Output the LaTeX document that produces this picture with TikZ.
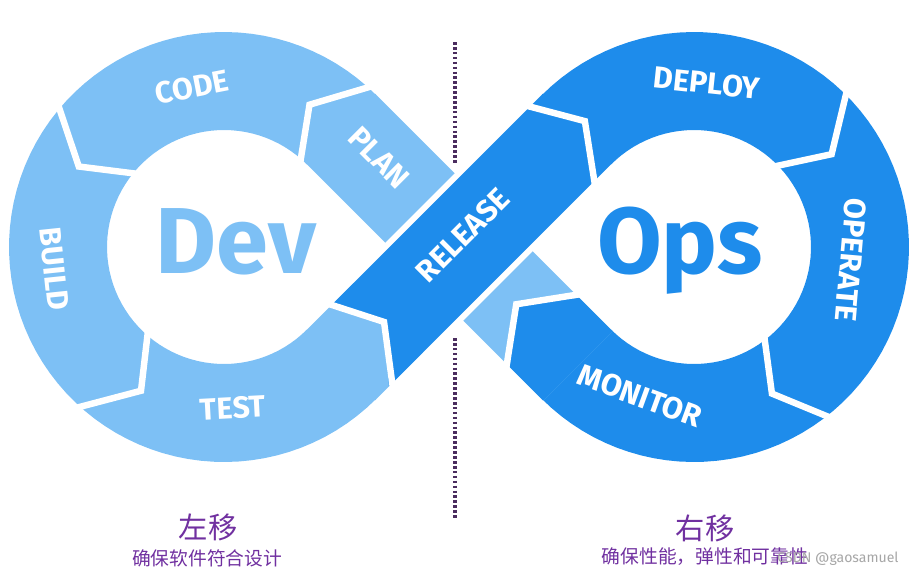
\documentclass[tikz,border=0pt]{standalone}
\usepackage{fontspec}
\setmainfont{Fira Sans}
\newfontfamily\cjk{Noto Sans CJK SC}
\usetikzlibrary{calc}
\definecolor{devblue}{RGB}{125,192,245}
\definecolor{opsblue}{RGB}{30,140,235}
\definecolor{shiftpurple}{RGB}{112,48,160}
\definecolor{divline}{RGB}{75,45,95}

\begin{document}
\begin{tikzpicture}[x=0.03cm, y=-0.03cm,
  devfill/.style={fill=devblue},
  opsfill/.style={fill=opsblue},
  gap/.style={draw=white, line width=5.5pt, line join=miter},
  divider/.style={divline, line width=2.6pt, dash pattern=on 2.2pt off 2pt},
  lab/.style={text=white, font=\bfseries\fontsize{26}{26}\selectfont, inner sep=0pt},
  big/.style={font=\bfseries\fontsize{80}{80}\selectfont, inner sep=0pt, anchor=base},
  cn/.style={text=shiftpurple, inner sep=0pt}
]
  \useasboundingbox (0,0) rectangle (917,578);
  \coordinate (L) at (224,247);
  \coordinate (R) at (694,247);
  \coordinate (C) at (459,247);

  % divider behind the loop
  \coordinate (divtop) at (455,42);
  \coordinate (divmidA) at (455,165);
  \coordinate (divmidB) at (455,338);
  \coordinate (divbot) at (455,520);
  \draw[divider] (divtop) -- (divmidA);
  \draw[divider] (divmidB) -- (divbot);

  % the two rings
  \fill[devfill] plot[domain=45:315, samples=80] ({224+215*cos(\x)},{247+215*sin(\x)})
    -- plot[domain=315:45, samples=80] ({224+117*cos(\x)},{247+117*sin(\x)}) -- cycle;
  \fill[opsfill] plot[domain=225:495, samples=80] ({694+215*cos(\x)},{247+215*sin(\x)})
    -- plot[domain=495:225, samples=80] ({694+117*cos(\x)},{247+117*sin(\x)}) -- cycle;

  % monitor -> plan band (under)
  \begin{scope}[shift={(C)}, rotate=135]
    \fill[devfill] (-168,-49) rectangle (168,49);
    \fill[opsfill] (-168,-49) -- (-121,-49) -- (-81,0) -- (-121,49) -- (-168,49) -- cycle;
    \draw[gap] (-121,55) -- (-81,0) -- (-121,-55);
  \end{scope}

  % test -> release band (over)
  \begin{scope}[shift={(C)}, rotate=45]
    \fill[white] (-62,-55) rectangle (62,55);
    \fill[devfill] (-168,-49) rectangle (-100,49);
    \fill[opsfill] (-134,-49) -- (-106,0) -- (-148,49) -- (168,49) -- (168,-49) -- cycle;
    \draw[gap] (-134,-55) -- (-106,0) -- (-148,55);
    \draw[gap] (146,-55) -- (178,0) -- (138,55);
  \end{scope}

  % chevron gaps on the rings
  \draw[gap] ($(L)+(313:111)$) -- ($(L)+(301:166)$) -- ($(L)+(313:221)$);
  \draw[gap] ($(L)+(221:111)$) -- ($(L)+(209:166)$) -- ($(L)+(221:221)$);
  \draw[gap] ($(L)+(133:111)$) -- ($(L)+(120:166)$) -- ($(L)+(133:221)$);
  \draw[gap] ($(R)+(314:111)$) -- ($(R)+(326:166)$) -- ($(R)+(314:221)$);
  \draw[gap] ($(R)+(51:111)$) -- ($(R)+(62:166)$) -- ($(R)+(51:221)$);

  % stage labels
  \node[lab, rotate=11] (code) at (192,87) {CODE};
  \node[lab, rotate=-84] (build) at (54,269) {BUILD};
  \node[lab, rotate=3] (test) at (233,408) {TEST};
  \node[lab, rotate=-45] (plan) at (379,158) {PLAN};
  \node[lab, rotate=45] (release) at (463,235) {RELEASE};
  \node[lab, rotate=-6] (deploy) at (707,83) {DEPLOY};
  \node[lab, rotate=-95] (operate) at (851,260) {OPERATE};
  \node[lab, rotate=-20] (monitor) at (640,396) {MONITOR};

  \node[big, text=devblue] (dev) at (236,273) {Dev};
  \node[big, text=opsblue] (ops) at (680,273) {Ops};

  % captions
  \node[cn, font=\cjk\fontsize{25}{25}\selectfont] (left) at (208,527) {左移};
  \node[cn, font=\cjk\fontsize{16}{16}\selectfont] (leftsub) at (207,558) {确保软件符合设计};
  \node[cn, font=\cjk\fontsize{25}{25}\selectfont] (right) at (705,528) {右移};
  \node[cn, font=\cjk\fontsize{16}{16}\selectfont] (rightsub) at (705,557) {确保性能，弹性和可靠性};
  \node[text=black!35, font=\fontsize{12}{12}\selectfont, inner sep=0pt] (mark) at (838,559) {CSDN @gaosamuel};
\end{tikzpicture}
\end{document}
